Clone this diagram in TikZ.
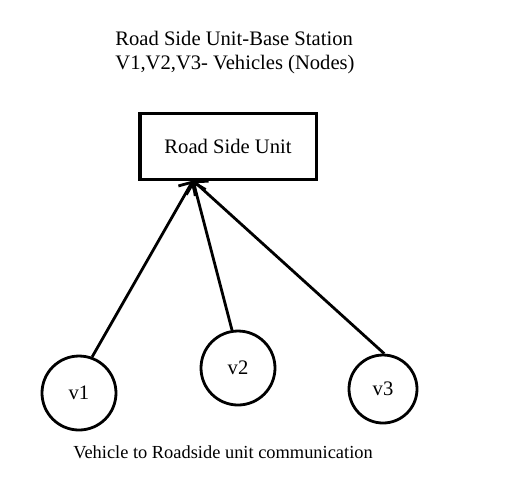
\documentclass[tikz,border=0pt]{standalone}
\usepackage{fontspec}
\setmainfont{Liberation Serif}
\usepackage{tikz}
\usetikzlibrary{arrows.meta}
\tikzstyle{arrow} = [line width=1.4pt,-{Straight Barb[length=5pt,width=10pt]}]
\tikzstyle{vehicle} = [circle, draw, line width=1.4pt, inner sep=0pt]
\newcommand{\txt}{\fontsize{10.3}{12}\selectfont}

\begin{document}
\begin{tikzpicture}[font=\txt, node distance=110pt]
                \useasboundingbox (-114pt,73pt) rectangle (145pt,-166.5pt);
                \node (rsu) [rectangle, draw, line width=1.5pt, minimum width=88pt, minimum height=33pt, text centered] {Road Side Unit};
                \node (legend) [anchor=west, align=left, inner sep=0pt] at ([xshift=-56.5pt, yshift=46.5pt]rsu.center) {Road Side Unit-Base Station\\V1,V2,V3- Vehicles (Nodes)};
                \node (v1) [vehicle, minimum size=37pt, below of = rsu, xshift=-74.5pt, yshift=-13.5pt] {v1};
                \node (v2) [vehicle, minimum size=37pt, below of = rsu, xshift=5pt, yshift=-1pt] {v2};
                \node (v3) [vehicle, minimum size=34pt, below of = rsu, xshift=77.5pt, yshift=-11.5pt] {v3};
                \node (caption) [font=\fontsize{9.2}{11}\selectfont, below of = rsu, xshift=-2.5pt, yshift=-43pt] {Vehicle to Roadside unit communication};
                \coordinate (hub) at ([xshift=-17.5pt]rsu.south);

                \draw [arrow] (v1.70) -- (hub);
                \draw [arrow] (v2.99) -- (hub);
                \draw [arrow] (v3.88) -- (hub);
\end{tikzpicture}
\end{document}
